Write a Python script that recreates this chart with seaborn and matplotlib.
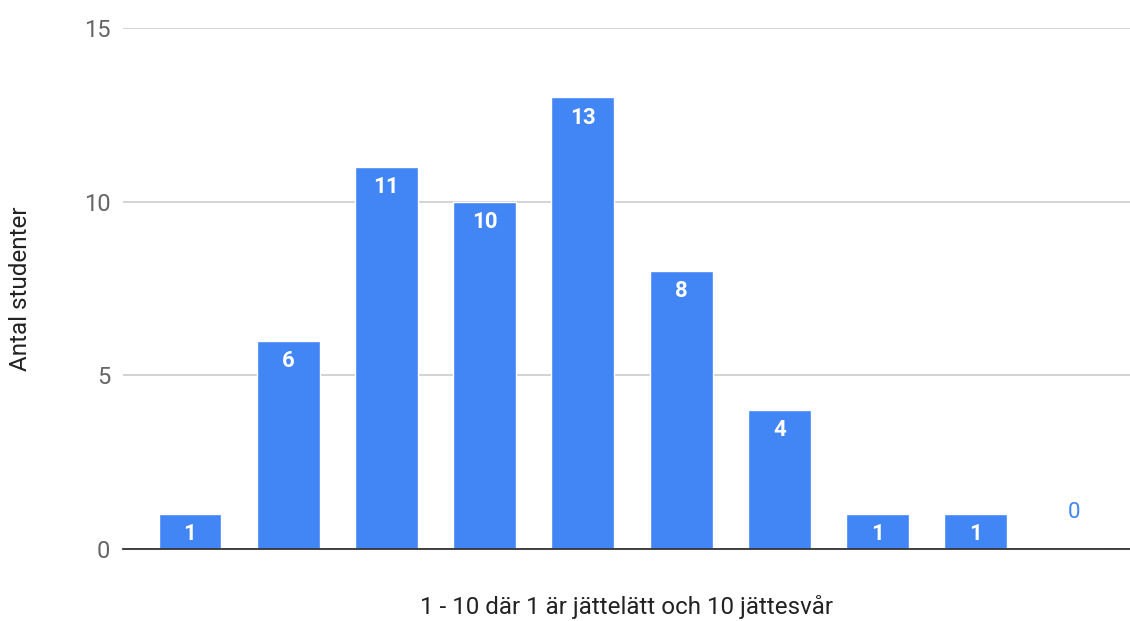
import pandas as pd
import seaborn as sns
import matplotlib.pyplot as plt

# data
betyg = ["1", "2", "3", "4", "5", "6", "7", "8", "9", "10"]
antal = [1, 6, 11, 10, 13, 8, 4, 1, 1, 0]

df = pd.DataFrame({"betyg": betyg, "antal": antal})

sns.set_style("white")
plt.rcParams["font.family"] = ["Roboto", "DejaVu Sans"]

fig = plt.figure(figsize=(11.3, 6.21), dpi=100)
ax = fig.add_axes([0.1088, 0.1159, 0.8912, 0.8390])

sns.barplot(data=df, x="betyg", y="antal", color="#4285F4", width=0.64,
            saturation=1, ax=ax, zorder=3)

ax.set_xlim(-0.683, 9.571)
ax.set_ylim(0, 15)
ax.set_yticks([0, 5, 10, 15])
ax.yaxis.grid(True, color="#cccccc", linewidth=1.2, zorder=0)
ax.set_xticks([])
for s in ["top", "right", "left"]:
    ax.spines[s].set_visible(False)
ax.spines["bottom"].set_color("#333333")
ax.spines["bottom"].set_linewidth(1.3)
ax.spines["bottom"].set_zorder(4)
ax.tick_params(axis="y", length=0, pad=9, labelsize=17, labelcolor="#666666")

# value labels
for i, v in enumerate(antal):
    if v > 0:
        ax.annotate(str(v), (i, v), xytext=(0, -14.5), textcoords="offset points",
                    ha="center", va="center", color="white", fontsize=16,
                    fontweight="bold", zorder=5)
    else:
        ax.annotate(str(v), (i, v), xytext=(0, 26), textcoords="offset points",
                    ha="center", va="center", color="#4285F4", fontsize=16,
                    zorder=5)

ax.set_xlabel("1 - 10 där 1 är jättelätt och 10 jättesvår", fontsize=17.4,
              color="#222222", labelpad=33)
ax.set_ylabel("Antal studenter", fontsize=17.5, color="#222222")
ax.yaxis.set_label_coords(-0.09, 0.5)

fig.savefig("out.png", dpi=100)
